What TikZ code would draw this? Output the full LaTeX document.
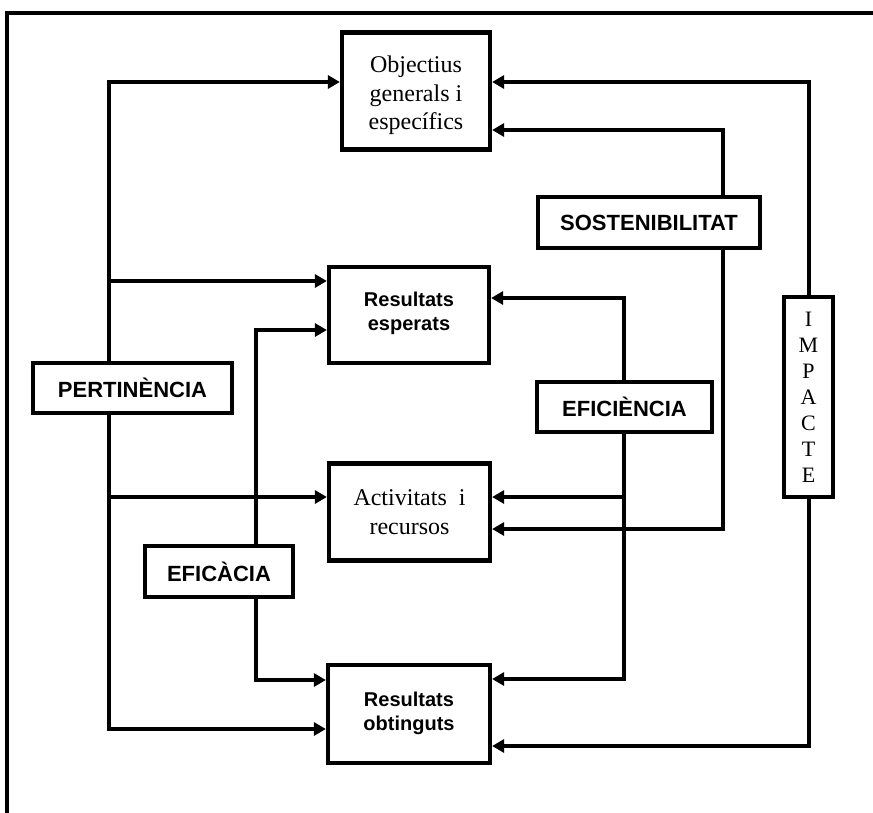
\documentclass[tikz,border=0pt]{standalone}
\usepackage{fontspec}
\setmainfont{Liberation Serif}
\setsansfont{Liberation Sans}
\usetikzlibrary{arrows.meta}
\begin{document}
\begin{tikzpicture}[x=1pt,y=-1pt,
  box/.style={draw,line width=4.2pt,fill=white,inner sep=0pt,align=center},
  sbox/.style={box,font=\sffamily\bfseries\fontsize{20}{24}\selectfont},
  tbox/.style={box,font=\fontsize{24}{28.5}\selectfont},
  lab/.style={box,line width=3.4pt,font=\sffamily\bfseries\fontsize{22}{26}\selectfont},
  conn/.style={line width=3.4pt},
  arr/.style={conn,-{Triangle[length=12pt,width=13pt]}},
]
\useasboundingbox (0,0) rectangle (873,812);
\clip (0,0) rectangle (873,812);
\draw[line width=4.5pt] (7,830) -- (7,13) -- (890,13);

\node[tbox,minimum width=148pt,minimum height=117pt] (obj) at (416,91) {\rule{0pt}{26pt}Objectius\\generals i\\específics};
\node[sbox,minimum width=160pt,minimum height=96pt] (res) at (409,315) {Resultats\\esperats\rule[-8pt]{0pt}{0pt}};
\node[tbox,minimum width=161pt,minimum height=97pt] (act) at (409.5,512) {Activitats~~i\\recursos};
\node[sbox,minimum width=162pt,minimum height=98pt] (obt) at (409,714) {Resultats\\obtinguts\rule[-6pt]{0pt}{0pt}};

\node[lab,minimum width=199pt,minimum height=50pt] (pert) at (132.5,388) {PERTINÈNCIA};
\node[lab,minimum width=222pt,minimum height=51pt] (sost) at (649,222.5) {SOSTENIBILITAT};
\node[lab,minimum width=175pt,minimum height=50pt] (effi) at (624.5,407) {EFICIÈNCIA};
\node[lab,minimum width=148pt,minimum height=51pt] (efca) at (219,571.5) {EFICÀCIA};
\node[lab,font=\fontsize{22}{26}\selectfont,minimum width=49pt,minimum height=200pt] (imp) at (808.5,397) {I\\M\\P\\A\\C\\T\\E};

\coordinate (pt) at (109,82);
\coordinate (p1) at (109,281);
\coordinate (p2) at (109,497);
\coordinate (pb) at (109,729);
\coordinate (ct) at (256,330);
\coordinate (cb) at (256,680);
\coordinate (et) at (624,298);
\coordinate (e1) at (624,497);
\coordinate (eb) at (624,679);
\coordinate (st) at (723,130);
\coordinate (sb) at (723,529);
\coordinate (it) at (809,82);
\coordinate (ib) at (809,746);

\draw[arr] (pert.north -| pt) -- (pt) -- (pt -| obj.west);
\draw[arr] (p1) -- (p1 -| res.west);
\draw[arr] (p2) -- (p2 -| act.west);
\draw[arr] (pert.south -| pb) -- (pb) -- (pb -| obt.west);

\draw[arr] (efca.north -| ct) -- (ct) -- (ct -| res.west);
\draw[arr] (efca.south -| cb) -- (cb) -- (cb -| obt.west);

\draw[arr] (effi.north -| et) -- (et) -- (et -| res.east);
\draw[arr] (effi.south -| eb) -- (eb) -- (eb -| obt.east);
\draw[arr] (e1) -- (e1 -| act.east);

\draw[arr] (sost.north -| st) -- (st) -- (st -| obj.east);
\draw[arr] (sost.south -| sb) -- (sb) -- (sb -| act.east);

\draw[arr] (imp.north -| it) -- (it) -- (it -| obj.east);
\draw[arr] (imp.south -| ib) -- (ib) -- (ib -| obt.east);
\end{tikzpicture}
\end{document}
